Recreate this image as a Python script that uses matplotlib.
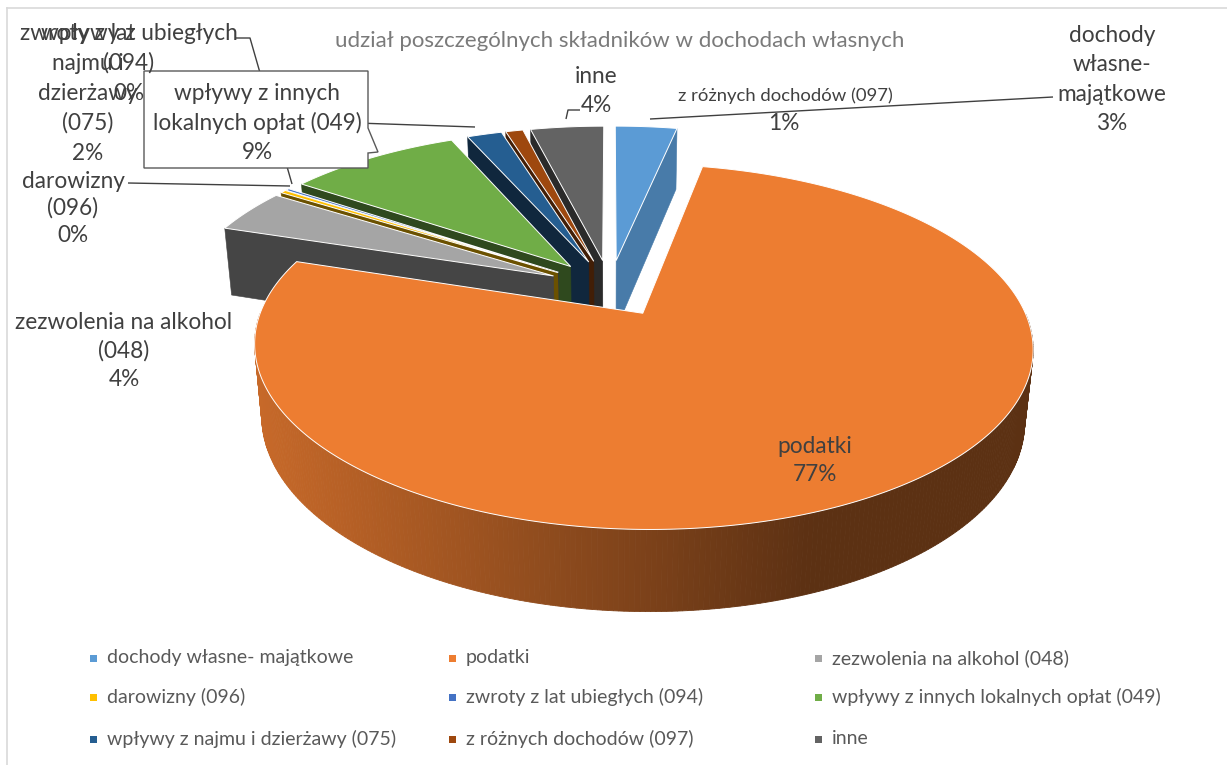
import numpy as np
import matplotlib
matplotlib.use("Agg")
import matplotlib.pyplot as plt
from matplotlib.patches import Polygon, Rectangle
from matplotlib.colors import to_rgb

# ---------------- data ----------------
categories = ["dochody własne- majątkowe", "podatki", "zezwolenia na alkohol (048)",
              "darowizny (096)", "zwroty z lat ubiegłych (094)",
              "wpływy z innych lokalnych opłat (049)", "wpływy z najmu i dzierżawy (075)",
              "z różnych dochodów (097)", "inne"]
shares = [3.2, 76.8, 4.1, 0.3, 0.2, 8.9, 1.8, 0.9, 3.8]
colors = ["#5B9BD5", "#ED7D31", "#A5A5A5", "#FFC000", "#4472C4",
          "#70AD47", "#255E91", "#9E480E", "#636363"]
title = "udział poszczególnych składników w dochodach własnych"
pct_labels = [f"{round(v):.0f}%" for v in shares]

# ---------------- figure ----------------
W, H = 1227, 765
fig = plt.figure(figsize=(W / 100, H / 100), dpi=100)
ax = fig.add_axes([0, 0, 1, 1])
ax.set_xlim(0, W)
ax.set_ylim(H, 0)
ax.axis("off")
FONT = ["Lato", "DejaVu Sans"]
renderer = fig.canvas.get_renderer()


def fit_size(s, target_px, base=12):
    t = ax.text(0, 0, s, fontsize=base, family=FONT)
    w = t.get_window_extent(renderer).width
    t.remove()
    return base * target_px / w


# ---------------- 3D projection ----------------
ALPHA = np.radians(26.7)
DIST = 5.0
FOC = 382.5 * (DIST - 0.13)
CX, CY = 610, 288
EXPL = 0.17
DEPTH = 0.215


def proj(X, Y, Z):
    X = np.asarray(X, float); Y = np.asarray(Y, float); Z = np.asarray(Z, float)
    d = DIST + Y * np.cos(ALPHA) - Z * np.sin(ALPHA)
    u = Y * np.sin(ALPHA) + Z * np.cos(ALPHA)
    return CX + FOC * X / d, CY - FOC * u / d


def shade(c, f):
    r = np.clip(np.array(to_rgb(c)) * f, 0, 1)
    return tuple(r)


fr = np.array(shares) / np.sum(shares)
cum = np.concatenate([[0], np.cumsum(fr)])
slices = []
for i in range(len(shares)):
    a = 90 - 360 * cum[i + 1]
    b = 90 - 360 * cum[i]
    m = np.radians((a + b) / 2)
    slices.append((i, a, b, EXPL * np.cos(m), EXPL * np.sin(m), np.sin(m)))

order = sorted(slices, key=lambda s: -s[5])
for (i, a, b, ox, oy, _) in order:
    col = colors[i]
    # radial walls
    for phi, nrm in ((b, b + 90), (a, a - 90)):
        if np.sin(np.radians(nrm)) < -1e-6:
            p = np.radians(phi)
            ex, ey = ox + np.cos(p), oy + np.sin(p)
            X = [ox, ex, ex, ox]
            Y = [oy, ey, ey, oy]
            Z = [0, 0, -DEPTH, -DEPTH]
            sx, sy = proj(X, Y, Z)
            f = 0.42 + 0.38 * max(np.cos(np.radians(nrm)), 0)
            ax.add_patch(Polygon(np.column_stack([sx, sy]), closed=True,
                                 facecolor=shade(col, f), edgecolor=shade(col, f),
                                 lw=0.4, zorder=2))
    # outer wall (front half only)
    n = max(int(abs(b - a) * 1.5), 2)
    th = np.radians(np.linspace(a, b, n + 1))
    for k in range(n):
        t1, t2 = th[k], th[k + 1]
        if np.sin((t1 + t2) / 2) < 0:
            X = [ox + np.cos(t1), ox + np.cos(t2), ox + np.cos(t2), ox + np.cos(t1)]
            Y = [oy + np.sin(t1), oy + np.sin(t2), oy + np.sin(t2), oy + np.sin(t1)]
            Z = [0, 0, -DEPTH, -DEPTH]
            sx, sy = proj(X, Y, Z)
            xm = sx.mean()
            f = np.clip(0.84 - 0.45 * (xm - 260) / 550, 0.39, 0.84)
            ax.add_patch(Polygon(np.column_stack([sx, sy]), closed=True,
                                 facecolor=shade(col, f), edgecolor=shade(col, f),
                                 lw=0.6, zorder=2))
    # top face
    tt = np.radians(np.linspace(a, b, max(int(abs(b - a) * 2), 2)))
    X = np.concatenate([[ox], ox + np.cos(tt)])
    Y = np.concatenate([[oy], oy + np.sin(tt)])
    sx, sy = proj(X, Y, np.zeros_like(X))
    ax.add_patch(Polygon(np.column_stack([sx, sy]), closed=True, facecolor=col,
                         edgecolor="white", lw=0.7, zorder=2))

# ---------------- title ----------------
ts = fit_size(title, 565)
ax.text(620, 41, title, fontsize=ts, family=FONT, color="#7A7A7A",
        ha="center", va="center", zorder=6)

# ---------------- data labels ----------------
LS = fit_size("zezwolenia na alkohol", 217)
LC = "#404040"


def label(x, y0, lines, dy=29.5, size=None, z=6):
    for k, s in enumerate(lines):
        ax.text(x, y0 + k * dy, s, fontsize=size or LS, family=FONT, color=LC,
                ha="center", va="center", zorder=z)


lc = dict(color="#404040", lw=1.0, zorder=3, solid_capstyle="butt")
# leader lines
ax.plot([650, 1053], [119, 97], **lc)
ax.plot([236, 250, 292], [38, 38, 184], **lc)
ax.plot([128, 290], [183, 186], **lc)
ax.plot([150, 475], [116, 127], **lc)
ax.plot([566, 568, 580], [119, 110, 110], **lc)

label(1112, 35, ["dochody", "własne-", "majątkowe", pct_labels[0]])
label(815, 446, ["podatki", pct_labels[1]], dy=28)
label(124, 322, ["zezwolenia na alkohol", "(048)", pct_labels[2]], dy=28.5)
label(73, 181, ["darowizny", "(096)", pct_labels[3]], dy=27)
label(129, 33, ["zwroty z lat ubiegłych", "(094)", pct_labels[4]], dy=30)
label(88, 33, ["wpływy z", "najmu i", "dzierżawy", "(075)", pct_labels[6]], dy=30)
label(596, 76, ["inne", pct_labels[8]], dy=29)
RS = fit_size("z różnych dochodów (097)", 214)
ax.text(785, 96, "z różnych dochodów (097)", fontsize=RS, family=FONT, color=LC,
        ha="center", va="center", zorder=6)
ax.text(784, 123, pct_labels[7], fontsize=LS, family=FONT, color=LC,
        ha="center", va="center", zorder=6)

# callout box for green slice
box = [(144, 71), (368, 71), (368, 128), (378, 152), (368, 153), (368, 168), (144, 168)]
ax.add_patch(Polygon(box, closed=True, facecolor="white", edgecolor="#595959",
                     lw=1.0, zorder=4))
label(257, 93, ["wpływy z innych", "lokalnych opłat (049)", pct_labels[5]], dy=29.5)

# ---------------- legend ----------------
GS = fit_size("wpływy z innych lokalnych opłat (049)", 328)
col_x = [93, 452, 818]
row_y = [658, 697, 739]
for idx, name in enumerate(categories):
    r, c = divmod(idx, 3)
    ax.add_patch(Rectangle((col_x[c] - 3.5, row_y[r] - 3.5), 7, 7,
                           facecolor=colors[idx], edgecolor="none", zorder=6))
    ax.text(col_x[c] + 14, row_y[r], name, fontsize=GS, family=FONT,
            color="#595959", ha="left", va="center", zorder=6)

# chart frame
ax.plot([7, W], [8, 8], color="#D9D9D9", lw=1.2, zorder=1)
ax.plot([7, 7], [8, H], color="#D9D9D9", lw=1.2, zorder=1)

fig.savefig("out.png", dpi=100)
